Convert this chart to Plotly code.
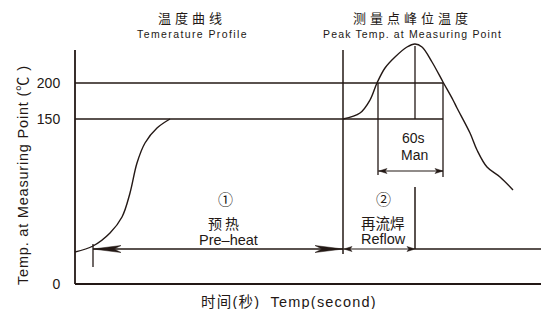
import plotly.graph_objects as go

# ---- schematic data (x: time units, y: schematic temperature height) ----
INK = "#231815"
FONT = "Liberation Sans, Arial, Noto Sans CJK SC, sans-serif"

y_tick_pos = [0, 165, 201]
y_tick_text = ["0", "150", "200"]

preheat_x = [0, 18, 35, 47, 55, 62, 70, 82, 95]
preheat_y = [32, 38, 51, 67, 91, 121, 141, 156, 165]

reflow_x = [268, 285, 295, 302, 310, 320, 332, 340, 347, 357, 368, 378, 382, 395, 402, 412, 425, 438]
reflow_y = [165, 171, 184, 201, 216, 227, 237, 240, 237, 222, 202, 184, 176, 151, 134, 117, 107, 94]

t_start, t_reflow, t_peak, t_end = 18, 268, 340, 474
t_liq_in, t_liq_out = 303, 368
y_150, y_200, y_top = 165, 201, 234
y_arrow, y_60s = 35, 113

X_RANGE = [-2, 474]
Y_RANGE = [-2, 276]

fig = go.Figure()

def seg(xs, ys, w=1.5):
    fig.add_trace(go.Scatter(x=xs, y=ys, mode="lines", line=dict(color=INK, width=w),
                             hoverinfo="skip", showlegend=False))

def head(tx, ty, d, L, hw, notch):
    # d = +1 pointing right, -1 pointing left
    xs = [tx, tx - d * L, tx - d * (L - notch), tx - d * L, tx]
    ys = [ty, ty + hw, ty, ty - hw, ty]
    fig.add_trace(go.Scatter(x=xs, y=ys, mode="lines", fill="toself", fillcolor=INK,
                             line=dict(color=INK, width=0.5), hoverinfo="skip", showlegend=False))

# axes
seg([0, 0], [0, y_top], 1.8)
seg([0, t_end], [0, 0], 1.8)

# reference levels
seg([0, t_liq_out], [y_150, y_150])
seg([0, t_liq_out], [y_200, y_200])

# verticals
seg([t_reflow, t_reflow], [30, y_top])
seg([t_liq_in, t_liq_in], [109, y_200], 1.3)
seg([t_liq_out, t_liq_out], [107, y_200], 1.3)
seg([t_peak, t_peak], [y_150, 238], 1.3)
seg([t_peak, t_peak], [y_arrow, 97], 1.5)
seg([t_start, t_start], [17, 40], 1.3)

# dimension lines
seg([t_start, t_reflow], [y_arrow, y_arrow], 1.3)
seg([t_reflow, t_peak], [y_arrow, y_arrow], 1.1)
seg([t_peak, t_end], [y_arrow, y_arrow], 1.5)
seg([t_liq_in, t_liq_out], [y_60s, y_60s], 1.1)

head(t_start, y_arrow, -1, 28, 3.5, 7)
head(t_reflow, y_arrow, 1, 28, 3.5, 7)
head(t_reflow + 1, y_arrow, -1, 8, 2.5, 2)
head(t_peak, y_arrow, 1, 8, 2.5, 2)
head(t_liq_in + 1, y_60s, -1, 8, 2.5, 2)
head(t_liq_out, y_60s, 1, 8, 2.5, 2)

# curves
fig.add_trace(go.Scatter(x=preheat_x, y=preheat_y, mode="lines",
                         line=dict(color=INK, width=1.4, shape="spline", smoothing=1),
                         hoverinfo="skip", showlegend=False))
fig.add_trace(go.Scatter(x=reflow_x, y=reflow_y, mode="lines",
                         line=dict(color=INK, width=1.4, shape="spline", smoothing=1),
                         hoverinfo="skip", showlegend=False))

def px(x):
    return (x - X_RANGE[0]) / (X_RANGE[1] - X_RANGE[0])

def py(y):
    return (y - Y_RANGE[0]) / (Y_RANGE[1] - Y_RANGE[0])

def txt(x, y, s, size=14, angle=0):
    fig.add_annotation(x=px(x), y=py(y), xref="paper", yref="paper", text=s, showarrow=False,
                       font=dict(family=FONT, size=size, color=INK), textangle=angle,
                       xanchor="center", yanchor="middle")

sp = lambda s, p: f'<span style="letter-spacing:{p}px">{s}</span>'

txt(117, 265, sp("温度曲线", 4), 13)
txt(117, 250, sp("Temerature Profile", 1.4), 10.5)
txt(337, 265, sp("测量点峰位温度", 4), 13)
txt(337, 250, sp("Peak Temp. at Measuring Point", 1.15), 10.5)

txt(150, 84, "①", 15)
txt(150, 60, sp("预热", 3), 14)
txt(153, 44, "Pre–heat", 14.5)

txt(308, 84, "②", 15)
txt(308, 60, "再流焊", 14.5)
txt(308, 45, "Reflow", 14.5)

txt(338, 146, "60s", 14)
txt(339, 129, "Man", 14)

txt(-52, 109, sp("Temp. at Measuring Point (℃ )", 0.8), 14.5, -90)
txt(214, -18, sp("时间(秒)  Temp(second)", 1.2), 14.5)

# page has an 8px body margin; figure sized so the plot lands where the reference has it
fig.update_layout(
    width=541, height=301,
    margin=dict(l=65, r=0, t=0, b=23, autoexpand=False),
    paper_bgcolor="white", plot_bgcolor="white",
    xaxis=dict(range=X_RANGE, visible=False, fixedrange=True),
    yaxis=dict(range=Y_RANGE, showgrid=False, zeroline=False, showline=False, automargin=False,
               tickmode="array", tickvals=y_tick_pos, ticktext=y_tick_text,
               ticks="outside", ticklen=9, tickcolor="rgba(0,0,0,0)",
               tickfont=dict(family=FONT, size=14, color=INK), fixedrange=True),
)

fig.write_html("out.html")
